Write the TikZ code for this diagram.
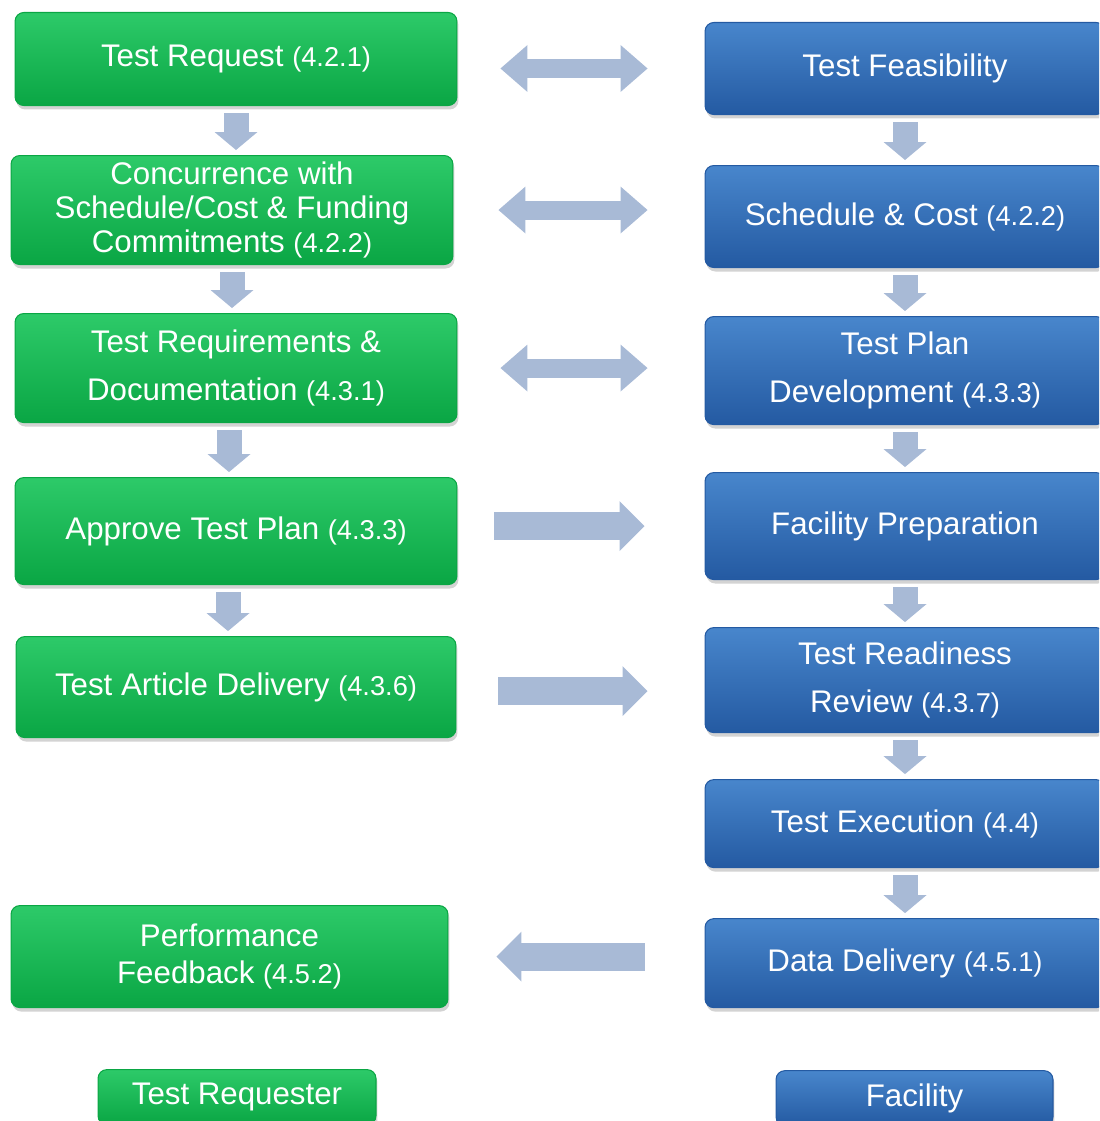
\documentclass[tikz,border=0pt]{standalone}
\usepackage{fontspec}
\setmainfont{Liberation Sans}
\usetikzlibrary{arrows.meta, positioning, shadows}

\definecolor{reqgreen}{RGB}{16,186,80}
\definecolor{reqgreentop}{RGB}{45,202,105}
\definecolor{reqgreenbot}{RGB}{10,166,68}
\definecolor{facblue}{RGB}{48,110,186}
\definecolor{facbluetop}{RGB}{72,134,204}
\definecolor{facbluebot}{RGB}{36,90,162}
\definecolor{flowarrow}{RGB}{168,186,214}

\newcommand{\secno}[1]{{\fontsize{15.5}{18}\selectfont(#1)}}

\begin{document}
\begin{tikzpicture}[
    x=0.02cm, y=-0.02cm,
    every node/.style={inner sep=0pt, align=center, text=white, font=\fontsize{17.8}{20}\selectfont},
    reqbox/.style={rounded corners=5pt, draw=reqgreenbot, line width=0.6pt,
        top color=reqgreentop, middle color=reqgreen, bottom color=reqgreenbot,
        minimum width=8.84cm,
        drop shadow={opacity=0.35, shadow xshift=0.03cm, shadow yshift=-0.08cm}},
    facbox/.style={rounded corners=5pt, draw=facbluebot, line width=0.6pt,
        top color=facbluetop, middle color=facblue, bottom color=facbluebot,
        minimum width=8cm,
        drop shadow={opacity=0.35, shadow xshift=0.03cm, shadow yshift=-0.08cm}},
    downarrow/.style={draw=flowarrow, line width=0.5cm,
        -{Triangle[length=0.36cm, width=0.86cm, line width=0pt]},
        shorten <=0.14cm, shorten >=0.1cm},
    bothways/.style={draw=flowarrow, line width=0.38cm,
        {Triangle[length=0.54cm, width=0.94cm, line width=0pt]}-{Triangle[length=0.54cm, width=0.94cm, line width=0pt]}},
    handover/.style={draw=flowarrow, line width=0.56cm,
        -{Triangle[length=0.5cm, width=1cm, line width=0pt]}}
    ]

    \useasboundingbox (0,0) rectangle (1099,1121);
    \clip (0,0) rectangle (1099,1121);

    % Test requester side
    \node (req)      [reqbox, minimum height=1.86cm] at (236,59) {Test Request \secno{4.2.1}};
    \node (concur)   [reqbox, minimum height=2.18cm, below=0.98cm of req, xshift=-0.08cm,
                      font=\fontsize{17.8}{19.5}\selectfont]
                     {Concurrence with\\Schedule/Cost \& Funding\\Commitments \secno{4.2.2}};
    \node (reqdoc)   [reqbox, minimum height=2.18cm, below=0.96cm of concur, xshift=0.08cm,
                      font=\fontsize{17.8}{27}\selectfont]
                     {Test Requirements \&\\Documentation \secno{4.3.1}};
    \node (approve)  [reqbox, minimum height=2.14cm, below=1.08cm of reqdoc] {Approve Test Plan \secno{4.3.3}};
    \node (article)  [reqbox, minimum height=2.02cm, minimum width=8.8cm, below=1.02cm of approve]
                     {Test Article Delivery \secno{4.3.6}};
    \node (feedback) [reqbox, minimum height=2.04cm, minimum width=8.74cm, below=3.34cm of article, xshift=-0.13cm,
                      font=\fontsize{17.8}{21}\selectfont]
                     {Performance\\Feedback \secno{4.5.2}};
    \node (requester) [reqbox, minimum height=1.1cm, minimum width=5.56cm, below=1.22cm of feedback, xshift=0.15cm]
                     {Test Requester};

    % Facility side
    \node (feasible) [facbox, minimum height=1.84cm] at (905,68.5) {Test Feasibility};
    \node (cost)     [facbox, minimum height=2.04cm, below=1.0cm of feasible] {Schedule \& Cost \secno{4.2.2}};
    \node (plan)     [facbox, minimum height=2.16cm, below=0.96cm of cost,
                      font=\fontsize{17.8}{27}\selectfont]
                     {Test Plan\\Development \secno{4.3.3}};
    \node (prep)     [facbox, minimum height=2.14cm, below=0.94cm of plan] {Facility Preparation};
    \node (ready)    [facbox, minimum height=2.1cm, below=0.94cm of prep,
                      font=\fontsize{17.8}{27}\selectfont]
                     {Test Readiness\\Review \secno{4.3.7}};
    \node (exec)     [facbox, minimum height=1.76cm, below=0.92cm of ready] {Test Execution \secno{4.4}};
    \node (data)     [facbox, minimum height=1.78cm, below=1.0cm of exec] {Data Delivery \secno{4.5.1}};
    \node (facility) [facbox, minimum height=1.1cm, minimum width=5.54cm, below=1.24cm of data, xshift=0.19cm]
                     {Facility};

    % Arrows down each column
    \draw[downarrow] (req.south) -- (req.south |- concur.north);
    \draw[downarrow] (concur.south) -- (concur.south |- reqdoc.north);
    \draw[downarrow] ([xshift=-0.14cm]reqdoc.south) -- ([xshift=-0.14cm]reqdoc.south |- approve.north);
    \draw[downarrow] ([xshift=-0.16cm]approve.south) -- ([xshift=-0.16cm]approve.south |- article.north);

    \draw[downarrow] (feasible.south) -- (feasible.south |- cost.north);
    \draw[downarrow] (cost.south) -- (cost.south |- plan.north);
    \draw[downarrow] (plan.south) -- (plan.south |- prep.north);
    \draw[downarrow] (prep.south) -- (prep.south |- ready.north);
    \draw[downarrow] (ready.south) -- (ready.south |- exec.north);
    \draw[downarrow] (exec.south) -- (exec.south |- data.north);

    % Arrows across
    \draw[bothways, shorten <=0.86cm, shorten >=1.14cm] (req.east |- feasible.west) -- (feasible.west);
    \draw[bothways, shorten <=0.9cm, shorten >=1.14cm] (concur.east) -- (concur.east -| cost.west);
    \draw[bothways, shorten <=0.86cm, shorten >=1.14cm] (reqdoc.east) -- (reqdoc.east -| plan.west);
    \draw[handover, shorten <=0.74cm, shorten >=1.2cm] (approve.east |- prep.west) -- (prep.west);
    \draw[handover, shorten <=0.84cm, shorten >=1.14cm] ([yshift=-0.08cm]article.east) -- ([yshift=-0.08cm]article.east -| ready.west);
    \draw[handover, shorten <=1.2cm, shorten >=0.96cm] (data.west |- feedback.east) -- (feedback.east);
\end{tikzpicture}
\end{document}
